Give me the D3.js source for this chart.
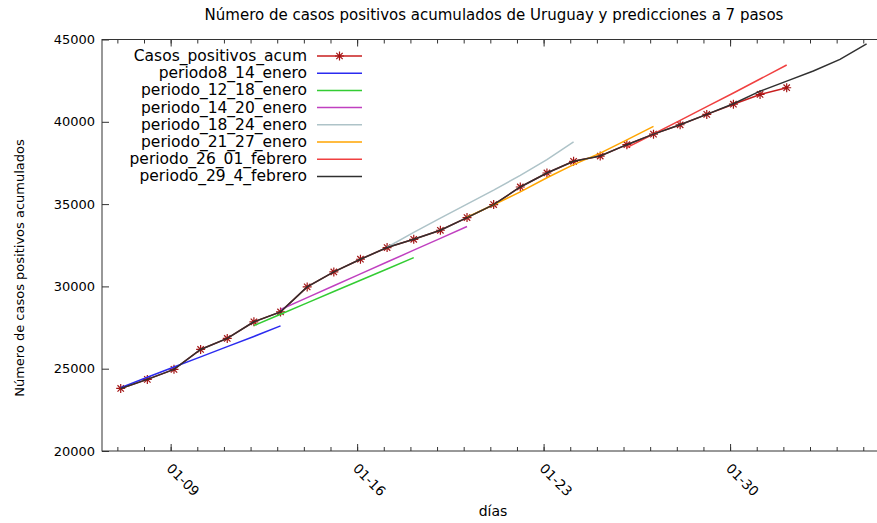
<!DOCTYPE html>
<html>
<head>
<meta charset="utf-8">
<script src="https://cdn.jsdelivr.net/npm/d3@7/dist/d3.min.js"></script>
<style>
  body { margin: 0; background: #fff; }
  svg text { font-family: "DejaVu Sans", Verdana, sans-serif; fill: #000; }
</style>
</head>
<body>
<svg id="chart" width="877" height="523"></svg>
<script>
// nombres de las series, como en la leyenda
let nombres = ["Casos_positivos_acum", "periodo8_14_enero", "periodo_12_18_enero",
               "periodo_14_20_enero", "periodo_18_24_enero", "periodo_21_27_enero",
               "periodo_26_01_febrero", "periodo_29_4_febrero"];
// primer dia de cada serie
let inicios = ["2021-01-07", "2021-01-07", "2021-01-12", "2021-01-13",
               "2021-01-17", "2021-01-20", "2021-01-26", "2021-01-07"];

// valores (uno por dia)
let casos = [23800, 24350, 24960, 26170, 26840, 27850, 28450, 29970, 30880, 31650,
             32360, 32860, 33410, 34180, 34970, 36040, 36890, 37600, 37920, 38610,
             39250, 39820, 40450, 41070, 41660, 42070];
let periodo8_14 = [23850, 24480, 25100, 25720, 26340, 26960, 27600];
let periodo12_18 = [27620, 28310, 29000, 29690, 30370, 31060, 31750];
let periodo14_20 = [28600, 29320, 30040, 30760, 31480, 32200, 32920, 33640];
let periodo18_24 = [32380, 33280, 34150, 35000, 35850, 36750, 37700, 38780];
let periodo21_27 = [34200, 34960, 35740, 36600, 37400, 38100, 38900, 39720];
let periodo26_01 = [38430, 39260, 40090, 40920, 41750, 42600, 43450];
let periodo29_4 = [23800, 24350, 24960, 26170, 26840, 27850, 28450, 29970, 30880, 31650,
                   32360, 32860, 33410, 34180, 34970, 36040, 36890, 37600, 37920, 38610,
                   39250, 39820, 40450, 41100, 41860, 42470, 43090, 43790, 44730];

let yTicks = [20000, 25000, 30000, 35000, 40000, 45000];
let colores = ["#c81e1e", "#2b2bf0", "#33cc33", "#c040c0", "#aec3c8", "#ffa500", "#f04040", "#303030"];

let valores = [casos, periodo8_14, periodo12_18, periodo14_20, periodo18_24, periodo21_27, periodo26_01, periodo29_4];

// las fechas van en hora de Uruguay (UTC-3), las marcas del eje en medianoche UTC
function fecha(inicio, i) {
  return new Date(Date.parse(inicio + "T03:00:00Z") + i * 864e5);
}

let series = valores.map(function(v, k) {
  return { nombre: nombres[k], color: colores[k],
           puntos: v.map(function(d, i) { return { f: fecha(inicios[k], i), v: d }; }) };
});

let svg = d3.select("#chart");
let mIzq = 102, mDer = 884, mSup = 39.5, mInf = 451;

let x = d3.scaleUtc()
  .domain([new Date(Date.UTC(2021, 0, 6, 10, 9)), new Date(Date.UTC(2021, 1, 4, 18, 40))])
  .range([mIzq, mDer]);
let y = d3.scaleLinear().domain([20000, 45000]).range([mInf, mSup]);

// titulo
svg.append("text")
  .attr("x", 494).attr("y", 20)
  .attr("text-anchor", "middle")
  .style("font-size", "15px")
  .text("Número de casos positivos acumulados de Uruguay y predicciones a 7 pasos");

// ejes con marcas hacia adentro (estilo gnuplot)
let dias = d3.utcDay.range(x.domain()[0], x.domain()[1]);
let semanas = d3.utcSaturday.range(x.domain()[0], x.domain()[1]);
let fmt = d3.utcFormat("%m-%d");

let gx = svg.append("g").attr("transform", "translate(0," + mInf + ")");
gx.call(d3.axisBottom(x).tickValues(dias).tickSize(-4).tickFormat(""));
let gx2 = svg.append("g").attr("transform", "translate(0," + mInf + ")");
gx2.call(d3.axisBottom(x).tickValues(semanas).tickSize(-7).tickFormat(fmt));
gx2.selectAll("text")
  .attr("text-anchor", "start")
  .attr("x", 0).attr("y", 0).attr("dy", "0.35em")
  .attr("transform", "translate(-2,15) rotate(45)")
  .style("font-size", "13.5px");

let gxt = svg.append("g").attr("transform", "translate(0," + mSup + ")");
gxt.call(d3.axisTop(x).tickValues(dias).tickSize(-4).tickFormat(""));
let gxt2 = svg.append("g").attr("transform", "translate(0," + mSup + ")");
gxt2.call(d3.axisTop(x).tickValues(semanas).tickSize(-7).tickFormat(""));

let gy = svg.append("g").attr("transform", "translate(" + mIzq + ",0)");
gy.call(d3.axisLeft(y).tickValues(yTicks).tickSize(-7).tickPadding(7).tickFormat(d3.format("d")));
gy.selectAll("text").style("font-size", "13px");

svg.selectAll(".domain").remove();
svg.selectAll(".tick line").attr("stroke", "#333");

svg.append("rect")
  .attr("x", mIzq).attr("y", mSup)
  .attr("width", mDer - mIzq).attr("height", mInf - mSup)
  .attr("fill", "none").attr("stroke", "#333").attr("stroke-width", 1);

// etiquetas de los ejes
svg.append("text")
  .attr("transform", "translate(24,268) rotate(-90)")
  .attr("text-anchor", "middle")
  .style("font-size", "13px")
  .text("Número de casos positivos acumulados");
svg.append("text")
  .attr("x", 493).attr("y", 516)
  .attr("text-anchor", "middle")
  .style("font-size", "14px")
  .text("días");

let linea = d3.line()
  .x(function(d) { return x(d.f); })
  .y(function(d) { return y(d.v); });

let estrella = "M-4.5,0H4.5M0,-4.5V4.5M-3.2,-3.2L3.2,3.2M-3.2,3.2L3.2,-3.2";

let plot = svg.append("g");
series.forEach(function(s, k) {
  plot.append("path")
    .datum(s.puntos)
    .attr("fill", "none")
    .attr("stroke", s.color)
    .attr("stroke-width", 1.5)
    .attr("d", linea);
  if (k === 0) {
    plot.selectAll(".estrella")
      .data(s.puntos)
      .enter().append("path")
      .attr("class", "estrella")
      .attr("transform", function(d) { return "translate(" + x(d.f) + "," + y(d.v) + ")"; })
      .attr("d", estrella)
      .attr("stroke", "#a31515")
      .attr("stroke-width", 1.2);
  }
});

// leyenda
let ley = svg.append("g");
series.forEach(function(s, k) {
  let yy = 56 + k * 17.2;
  ley.append("text")
    .attr("x", 307).attr("y", yy + 5)
    .attr("text-anchor", "end")
    .style("font-size", "15.5px")
    .text(s.nombre);
  ley.append("line")
    .attr("x1", 317).attr("x2", 362)
    .attr("y1", yy).attr("y2", yy)
    .attr("stroke", s.color).attr("stroke-width", 1.5);
  if (k === 0) {
    ley.append("path")
      .attr("transform", "translate(339.5," + yy + ")")
      .attr("d", estrella)
      .attr("stroke", "#a31515")
      .attr("stroke-width", 1.2);
  }
});
</script>
</body>
</html>
